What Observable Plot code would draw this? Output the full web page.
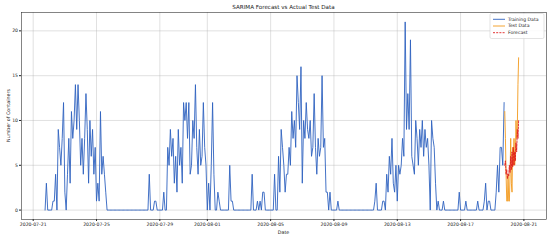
<!DOCTYPE html>
<html><head><meta charset="utf-8">
<script src="https://cdn.jsdelivr.net/npm/d3@7"></script>
<script src="https://cdn.jsdelivr.net/npm/@observablehq/plot@0.6"></script>
<style>html,body{margin:0;padding:0;background:#fff} svg{display:block}</style>
</head><body><div id="chart"></div>
<script>
// ---- data ----
const titleText = "SARIMA Forecast vs Actual Test Data";
const xLabel = "Date";
const yLabel = "Number of Containers";
const seriesNames = ["Training Data", "Test Data", "Forecast"];
const seriesColors = ["#2f62c0", "#f39a1c", "#e02020"];

const trainStart = "2020-07-21T18:00:00Z";
const trainStepHours = 2;
const trainValues = [
  0,3,0,0,0,0,1,1,4,0,9,7,5,8,12,2,0,4,8,3,11,8,10,14,9,14,10,5,8,4,8,13,9,3,10,6,9,4,7,1,3,1,11,4,6,4,2,0,
  0,0,0,0,0,0,0,0,0,0,0,0,0,0,0,0,0,0,0,0,0,0,0,0,0,0,0,0,0,0,0,
  4,0,0,0,1,1,0,0,0,0,0,2,0,0,7,5,9,6,8,3,6,2,9,5,7,3,12,10,12,8,12,4,5,10,8,14,7,4,9,5,6,12,7,5,0,3,0,5,12,4,0,0,2,1,0,
  0,0,0,0,0,0,5,1,1,
  0,0,0,0,0,0,0,0,0,0,0,0,0,0,
  4,0,0,0,1,0,1,0,2,2,
  0,0,0,0,0,0,0,
  4,0,0,
  6,2,9,7,5,2,4,4,7,5,11,8,10,7,15,12,9,16,3,10,8,12,9,8,10,6,7,13,7,4,8,6,7,15,7,8,2,2,0,2,0,
  0,0,0,0,1,
  0,0,0,0,0,0,0,0,0,0,0,0,0,0,0,0,0,0,0,0,0,0,0,0,0,0,0,
  1,3,0,0,0,0,1,1,0,
  4,2,6,4,8,3,2,5,1,5,4,5,8,6,21,9,13,9,19,6,5,4,10,8,5,9,7,10,6,9,7,8,5,0,10,8,7,3,0,1,0,
  0,0,1,
  0,0,0,0,0,0,0,0,0,0,0,
  2,0,0,0,0,1,
  0,0,0,0,0,0,0,0,
  1,0,0,0,0,1,3,0,1,1,0,0,0,0,2,5,2,7,7,5,12
];

const testStart = "2020-08-19T19:00:00Z";
const testStepHours = 1;
const testValues = [11,8,4,1,1,4,1,1,4,8,3,2,7,5,8,5,6,10,8,9,14,17];
const forecastValues = [5,5.5,4,4.5,3.5,4,3.8,5,4.2,6,4.5,6.5,4.8,7,5,6.5,5.5,7.5,6.5,9,8,10];

const xTickLabels = ["2020-07-21","2020-07-25","2020-07-29","2020-08-01","2020-08-05","2020-08-09","2020-08-13","2020-08-17","2020-08-21"];
const yTicks = [0, 5, 10, 15, 20];
const xDomain = ["2020-07-20T06:16:00Z", "2020-08-22T10:16:00Z"];
const yDomain = [-1.05, 22.05];

// ---- build tables ----
const H = 3600e3;
const train = trainValues.map((v, i) => ({date: new Date(Date.parse(trainStart) + i * trainStepHours * H), value: v}));
const test = testValues.map((v, i) => ({date: new Date(Date.parse(testStart) + i * testStepHours * H), value: v}));
const forecast = forecastValues.map((v, i) => ({date: new Date(Date.parse(testStart) + i * testStepHours * H), value: v}));
const xTicks = xTickLabels.map(s => new Date(s + "T00:00:00Z"));

const W = 550, HT = 240;
const mL = 21, mR = 4, mT = 12, mB = 21;
const font = "DejaVu Sans, sans-serif";

const plot = Plot.plot({
  width: W, height: HT,
  marginLeft: mL, marginRight: mR, marginTop: mT, marginBottom: mB,
  style: {fontFamily: font, fontSize: "4.6px", color: "#222", background: "white"},
  x: {type: "utc", domain: xDomain.map(s => new Date(s))},
  y: {domain: yDomain},
  marks: [
    Plot.gridY(yTicks, {stroke: "#b0b0b0", strokeOpacity: 0.55, strokeWidth: 0.7}),
    Plot.gridX(xTicks, {stroke: "#b0b0b0", strokeOpacity: 0.55, strokeWidth: 0.7}),
    Plot.axisY(yTicks, {tickSize: 2, tickPadding: 1.5, label: null, fontSize: 4.6}),
    Plot.axisX(xTicks, {tickSize: 2, tickPadding: 1.5, label: null, tickFormat: d3.utcFormat("%Y-%m-%d"), fontSize: 4.6}),
    Plot.line(train, {x: "date", y: "value", stroke: seriesColors[0], strokeWidth: 0.9}),
    Plot.line(test, {x: "date", y: "value", stroke: seriesColors[1], strokeWidth: 0.9}),
    Plot.line(forecast, {x: "date", y: "value", stroke: seriesColors[2], strokeWidth: 0.9, strokeDasharray: "2,1.2"}),
    Plot.frame({stroke: "#333", strokeWidth: 0.6})
  ]
});

const svg = d3.select(plot);
const cx = mL + (W - mL - mR) / 2;
svg.append("text").attr("x", cx).attr("y", 7).attr("text-anchor", "middle").attr("dominant-baseline", "middle")
  .attr("font-family", font).attr("font-size", 5.6).attr("fill", "#222").text(titleText);
svg.append("text").attr("x", cx).attr("y", 233).attr("text-anchor", "middle").attr("dominant-baseline", "middle")
  .attr("font-family", font).attr("font-size", 4.8).attr("fill", "#222").text(xLabel);
svg.append("text").attr("transform", `translate(9,${mT + (HT - mT - mB) / 2}) rotate(-90)`).attr("text-anchor", "middle")
  .attr("dominant-baseline", "middle").attr("font-family", font).attr("font-size", 4.8).attr("fill", "#222").text(yLabel);

const lg = svg.append("g").attr("transform", "translate(490,13.5)");
lg.append("rect").attr("width", 54).attr("height", 25).attr("rx", 1.5).attr("fill", "white").attr("fill-opacity", 0.85)
  .attr("stroke", "#d0d0d0").attr("stroke-width", 0.6);
seriesNames.forEach((name, i) => {
  const y = 5.8 + i * 6.7;
  lg.append("line").attr("x1", 3).attr("x2", 15).attr("y1", y).attr("y2", y).attr("stroke", seriesColors[i])
    .attr("stroke-width", 0.9).attr("stroke-dasharray", i === 2 ? "2,1.2" : null);
  lg.append("text").attr("x", 18).attr("y", y).attr("text-anchor", "start").attr("dominant-baseline", "middle")
    .attr("font-family", font).attr("font-size", 4.6).attr("fill", "#222").text(name);
});

document.getElementById("chart").appendChild(plot);
</script>
</body></html>
